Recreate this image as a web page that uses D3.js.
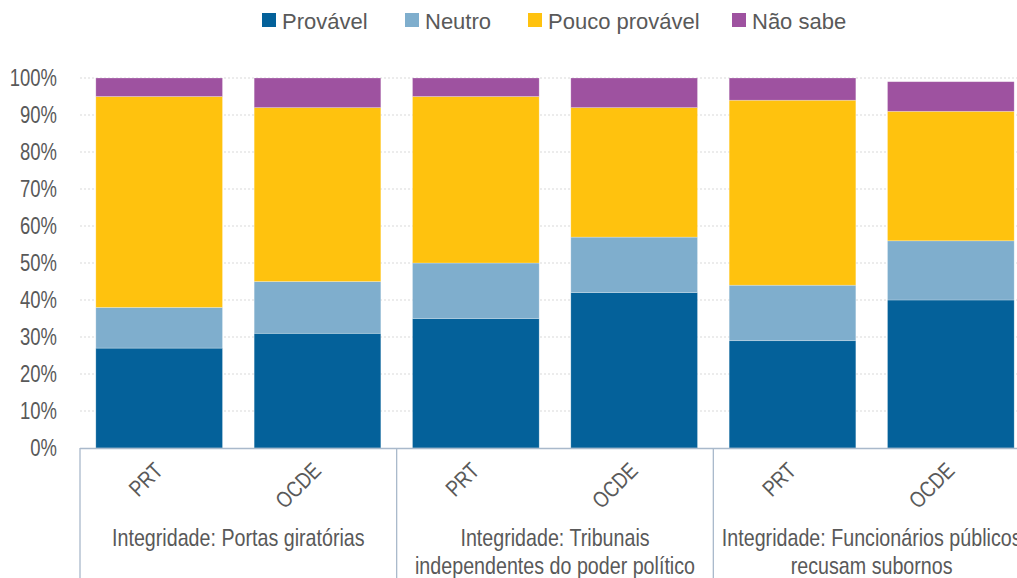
<!DOCTYPE html>
<html><head><meta charset="utf-8">
<script src="https://cdn.jsdelivr.net/npm/d3@7"></script>
<style>
body{margin:0;background:#fff;}
text{font-family:"Liberation Sans",Arial,sans-serif;fill:#595959;}
</style></head>
<body><svg id="c" width="1017" height="578"></svg>
<script>
const groups = ["Integridade: Portas giratórias", "Integridade: Tribunais\nindependentes do poder político", "Integridade: Funcionários públicos\nrecusam subornos"];
const subcats = ["PRT", "OCDE"];
const seriesNames = ["Provável", "Neutro", "Pouco provável", "Não sabe"];
const provavel = [27, 31, 35, 42, 29, 40];
const neutro = [11, 14, 15, 15, 15, 16];
const poucoProvavel = [57, 47, 45, 35, 50, 35];
const naoSabe = [5, 8, 5, 8, 6, 8];
const yTicks = [0, 10, 20, 30, 40, 50, 60, 70, 80, 90, 100];
const colors = ["#04619A", "#7FAECD", "#FFC20E", "#9E52A0"];

(function(){
const SX = 0.82; // horizontal condensing to mimic a narrow font
const svg = d3.select("#c");
const mLeft = 80, mRight = 1030, mTop = 78, mBottom = 448;
const rows = [];
groups.forEach((g, gi) => subcats.forEach((s, si) => {
  const i = gi * 2 + si;
  rows.push({key: i, group: g, sub: s, "Provável": provavel[i], "Neutro": neutro[i], "Pouco provável": poucoProvavel[i], "Não sabe": naoSabe[i]});
}));
const x = d3.scaleBand().domain(rows.map(d => d.key)).range([mLeft, mRight]).paddingInner(0.2).paddingOuter(0.1);
const y = d3.scaleLinear().domain([0, 100]).range([mBottom, mTop]);
const gx = d3.scaleBand().domain(groups).range([mLeft, mRight]);
const color = d3.scaleOrdinal().domain(seriesNames).range(colors);

// grid
svg.append("g").selectAll("line").data(yTicks.slice(1)).join("line")
  .attr("x1", mLeft).attr("x2", 1017).attr("y1", d => y(d)).attr("y2", d => y(d))
  .attr("stroke", "#D9D9D9").attr("stroke-dasharray", "2,2").attr("stroke-width", 1);

// y axis labels
const YSX = 0.77;
const ya = svg.append("g").attr("transform", `translate(${mLeft},0)`)
  .call(d3.axisLeft(y).tickValues(yTicks).tickFormat(d => d + "%").tickSize(0).tickPadding(23));
ya.select(".domain").remove();
ya.selectAll("text").style("font-size", "24px").attr("fill", "#595959").attr("font-family", null)
  .attr("x", -23 / YSX).attr("transform", `scale(${YSX},1)`);

// stacked bars
const stack = d3.stack().keys(seriesNames)(rows);
svg.append("g").selectAll("g").data(stack).join("g").attr("fill", d => color(d.key))
  .selectAll("rect").data(d => d).join("rect")
  .attr("x", d => x(d.data.key)).attr("width", x.bandwidth())
  .attr("y", d => y(d[1])).attr("height", d => y(d[0]) - y(d[1]))
  .attr("stroke", "rgba(255,255,255,0.35)").attr("stroke-width", 0.7);

// category frame
const frame = svg.append("g").attr("stroke", "#A9B9CB").attr("stroke-width", 1.3);
frame.append("line").attr("x1", mLeft).attr("x2", 1017).attr("y1", mBottom + 0.5).attr("y2", mBottom + 0.5);
groups.forEach(g => {
  frame.append("line").attr("x1", gx(g)).attr("x2", gx(g)).attr("y1", mBottom).attr("y2", 578);
});

// sub labels rotated
svg.append("g").selectAll("text").data(rows).join("text")
  .attr("transform", d => `translate(${x(d.key) + x.bandwidth() / 2 + 5},${mBottom + 24}) rotate(-45) scale(${SX},1)`)
  .attr("text-anchor", "end")
  .style("font-size", "22.5px").text(d => d.sub);

// group labels
groups.forEach(g => {
  const lines = g.split("\n");
  const t = svg.append("text")
    .attr("transform", `translate(${gx(g) + gx.bandwidth() / 2},546) scale(${SX},1)`)
    .attr("text-anchor", "middle").style("font-size", "24px");
  lines.forEach((l, i) => t.append("tspan").attr("x", 0).attr("dy", i ? 28 : 0).text(l));
});

// legend
const legX = [262, 405, 528, 732];
const leg = svg.append("g").selectAll("g").data(seriesNames).join("g")
  .attr("transform", (d, i) => `translate(${legX[i]},13)`);
leg.append("rect").attr("width", 14).attr("height", 14).attr("fill", d => color(d));
leg.append("text").attr("x", 20).attr("y", 16).style("font-size", "22px").text(d => d);
})();
</script></body></html>
